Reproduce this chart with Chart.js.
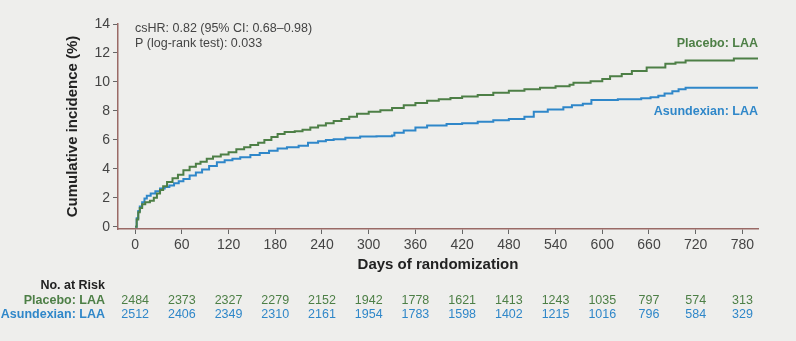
<!DOCTYPE html>
<html>
<head>
<meta charset="utf-8">
<script src="https://cdn.jsdelivr.net/npm/chart.js@4.4.0/dist/chart.umd.min.js"></script>
<style>
  html, body { margin: 0; padding: 0; background: #eeeeec; }
  #wrap { width: 796px; height: 341px; }
</style>
</head>
<body>
<div id="wrap"><canvas id="km"></canvas></div>
<script>
// (days, cumulative incidence %)
var placeboDays = [0, 2, 4, 6, 9, 13, 19, 24, 28, 32, 36, 41, 48, 55, 62, 70, 78, 84, 92, 100, 110, 120, 130, 140, 148, 158, 166, 175, 183, 192, 205, 215, 225, 235, 245, 255, 265, 275, 285, 300, 315, 330, 345, 360, 375, 390, 405, 420, 440, 460, 480, 500, 520, 540, 558, 563, 585, 600, 610, 625, 638, 657, 681, 694, 707, 769, 800];
var placeboPct = [0, 0.5, 1.0, 1.3, 1.55, 1.7, 1.8, 2.0, 2.3, 2.55, 2.8, 3.1, 3.35, 3.6, 3.9, 4.15, 4.35, 4.5, 4.7, 4.85, 5.0, 5.15, 5.35, 5.5, 5.65, 5.8, 6.0, 6.2, 6.4, 6.55, 6.6, 6.7, 6.85, 7.0, 7.15, 7.3, 7.45, 7.6, 7.8, 7.95, 8.05, 8.2, 8.4, 8.55, 8.7, 8.8, 8.9, 9.0, 9.1, 9.25, 9.4, 9.5, 9.6, 9.7, 9.8, 9.95, 10.05, 10.2, 10.4, 10.55, 10.75, 11.0, 11.25, 11.35, 11.48, 11.62, 11.62];

var asundexianDays = [0, 2, 4, 6, 9, 12, 15, 20, 26, 32, 38, 44, 50, 56, 62, 70, 78, 86, 95, 105, 115, 125, 135, 148, 160, 172, 183, 195, 210, 222, 235, 245, 255, 270, 289, 310, 330, 333, 345, 360, 375, 400, 420, 440, 460, 480, 500, 512, 530, 550, 561, 575, 586, 620, 650, 662, 672, 680, 690, 698, 707, 800];
var asundexianPct = [0, 0.6, 1.1, 1.4, 1.7, 1.95, 2.15, 2.3, 2.45, 2.65, 2.75, 2.85, 3.0, 3.15, 3.3, 3.55, 3.75, 3.95, 4.2, 4.45, 4.6, 4.7, 4.8, 4.95, 5.1, 5.25, 5.4, 5.5, 5.6, 5.8, 5.9, 6.0, 6.05, 6.15, 6.23, 6.25, 6.3, 6.5, 6.65, 6.85, 7.0, 7.1, 7.15, 7.25, 7.35, 7.45, 7.6, 7.95, 8.1, 8.25, 8.4, 8.5, 8.75, 8.8, 8.87, 8.95, 9.05, 9.2, 9.35, 9.5, 9.6, 9.6];

var xTicks = [0, 60, 120, 180, 240, 300, 360, 420, 480, 540, 600, 660, 720, 780];
var yTicks = [0, 2, 4, 6, 8, 10, 12, 14];

var riskPlacebo = [2484, 2373, 2327, 2279, 2152, 1942, 1778, 1621, 1413, 1243, 1035, 797, 574, 313];
var riskAsundexian = [2512, 2406, 2349, 2310, 2161, 1954, 1783, 1598, 1402, 1215, 1016, 796, 584, 329];

var green = '#4d7f46';
var blue = '#2f87c9';
var axisCol = '#9a6a66';
var fam = '"Liberation Sans", Arial, sans-serif';

function pts(xs, ys) {
  return xs.map(function (d, i) { return { x: d, y: ys[i] }; });
}

var extraText = {
  id: 'extraText',
  afterDraw: function (chart) {
    var ctx = chart.ctx;
    var x = chart.scales.x;
    ctx.save();
    ctx.textBaseline = 'middle';

    ctx.fillStyle = '#444';
    ctx.font = '12.5px ' + fam;
    ctx.textAlign = 'left';
    ctx.fillText('csHR: 0.82 (95% CI: 0.68\u20130.98)', 135, 29);
    ctx.fillText('P (log-rank test): 0.033', 135, 44);

    ctx.font = 'bold 12.5px ' + fam;
    ctx.textAlign = 'right';
    ctx.fillStyle = green;
    ctx.fillText('Placebo: LAA', 758, 44);
    ctx.fillStyle = blue;
    ctx.fillText('Asundexian: LAA', 758, 112);

    // number at risk table
    ctx.fillStyle = '#222';
    ctx.fillText('No. at Risk', 105, 286);
    ctx.fillStyle = green;
    ctx.fillText('Placebo: LAA', 105, 301);
    ctx.fillStyle = blue;
    ctx.fillText('Asundexian: LAA', 105, 315);

    ctx.font = '12.5px ' + fam;
    ctx.textAlign = 'center';
    xTicks.forEach(function (d, i) {
      var px = x.getPixelForValue(d);
      ctx.fillStyle = green;
      ctx.fillText(String(riskPlacebo[i]), px, 301);
      ctx.fillStyle = blue;
      ctx.fillText(String(riskAsundexian[i]), px, 315);
    });
    ctx.restore();
  }
};

new Chart(document.getElementById('km'), {
  type: 'line',
  data: {
    datasets: [{
      label: 'Placebo: LAA',
      data: pts(placeboDays, placeboPct),
      stepped: true,
      borderColor: green,
      borderWidth: 2,
      pointRadius: 0,
      fill: false
    },
    {
      label: 'Asundexian: LAA',
      data: pts(asundexianDays, asundexianPct),
      stepped: true,
      borderColor: blue,
      borderWidth: 2,
      pointRadius: 0,
      fill: false
    }]
  },
  options: {
    responsive: true,
    maintainAspectRatio: false,
    animation: false,
    layout: { padding: { left: 0, right: 38, top: 24, bottom: 0 } },
    plugins: {
      legend: { display: false },
      tooltip: { enabled: false }
    },
    scales: {
      x: {
        type: 'linear',
        min: -22,
        max: 800,
        afterBuildTicks: function (s) { s.ticks = xTicks.map(function (v) { return { value: v }; }); },
        afterFit: function (s) { s.height = 112; },
        border: { color: axisCol, width: 1.5 },
        grid: { drawOnChartArea: false, tickLength: 5, color: '#666' },
        ticks: {
          color: '#444',
          padding: 3,
          maxRotation: 0,
          autoSkip: false,
          font: { family: fam, size: 14 }
        },
        title: {
          display: true,
          text: 'Days of randomization',
          color: '#222',
          padding: { top: 0, bottom: 67 },
          font: { family: fam, size: 15, weight: 'bold' }
        }
      },
      y: {
        min: -0.15,
        max: 14,
        afterBuildTicks: function (s) { s.ticks = yTicks.map(function (v) { return { value: v }; }); },
        afterFit: function (s) { s.width = 118; },
        border: { color: axisCol, width: 1.5 },
        grid: { drawOnChartArea: false, tickLength: 5, color: '#666' },
        ticks: {
          color: '#444',
          padding: 3,
          font: { family: fam, size: 14 }
        },
        title: {
          display: true,
          text: 'Cumulative incidence (%)',
          color: '#222',
          padding: { top: 64, bottom: 0 },
          font: { family: fam, size: 15, weight: 'bold' }
        }
      }
    }
  },
  plugins: [extraText]
});
</script>
</body>
</html>
